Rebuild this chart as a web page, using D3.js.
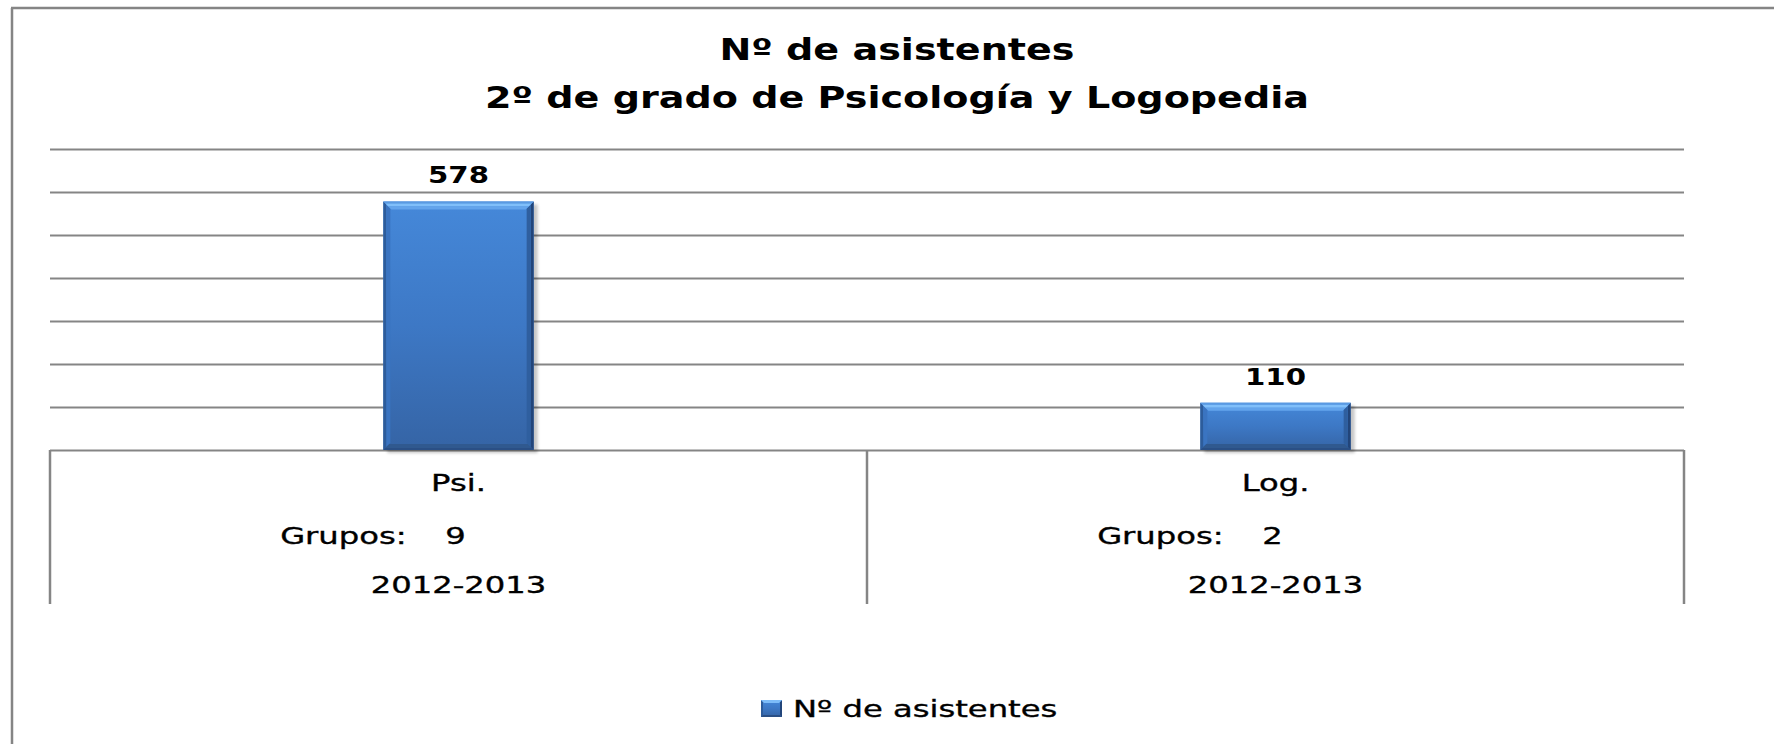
<!DOCTYPE html>
<html>
<head>
<meta charset="utf-8">
<script src="https://cdn.jsdelivr.net/npm/d3@7"></script>
<style>
  body { margin: 0; background: #fff; }
  text { font-family: "DejaVu Sans", Verdana, sans-serif; fill: #000; }
  .cell text, .legend text { stroke: #000; stroke-width: 0.35px; }
</style>
</head>
<body>
<div id="chart"></div>
<script>
// chart data
var categories = ["Psi.", "Log."];
var asistentes = [578, 110];
var grupos = [9, 2];
var cursos = ["2012-2013", "2012-2013"];
var yTicks = [0, 100, 200, 300, 400, 500, 600, 700];
var seriesName = "Nº de asistentes";
var titleLines = ["Nº de asistentes", "2º de grado de Psicología y Logopedia"];

// layout
var W = 1774, H = 744;
var plot = {left: 50, right: 1684, top: 149, bottom: 450};
var tableBottom = 604;
var grey = "#858585";
var stretchBold = 1.27, stretchRegular = 1.4; // the picture's text is wide

var svg = d3.select("#chart").append("svg")
    .attr("width", W)
    .attr("height", H)
    .style("background", "#fff");

var defs = svg.append("defs");

var bodyGrad = defs.append("linearGradient")
    .attr("id", "barBody")
    .attr("x1", 0).attr("y1", 0).attr("x2", 0).attr("y2", 1);
bodyGrad.append("stop").attr("offset", "0%").attr("stop-color", "#4588d9");
bodyGrad.append("stop").attr("offset", "50%").attr("stop-color", "#3d78c5");
bodyGrad.append("stop").attr("offset", "100%").attr("stop-color", "#3564a5");

defs.append("filter")
    .attr("id", "shadow")
    .attr("x", "-10%").attr("y", "-10%").attr("width", "130%").attr("height", "130%")
  .append("feGaussianBlur")
    .attr("stdDeviation", 1.5);

// outer frame of the chart area (runs off the right and bottom edges)
svg.append("line")
    .attr("x1", 11).attr("x2", W)
    .attr("y1", 8).attr("y2", 8)
    .attr("stroke", grey).attr("stroke-width", 2.5);
svg.append("line")
    .attr("x1", 12).attr("x2", 12)
    .attr("y1", 8).attr("y2", H)
    .attr("stroke", grey).attr("stroke-width", 2.5);

var x = d3.scaleBand()
    .domain(categories)
    .range([plot.left, plot.right]);

var y = d3.scaleLinear()
    .domain([0, 700])
    .range([plot.bottom, plot.top]);

function stretch(sel, k) {
  sel.each(function() {
    var len = this.getComputedTextLength();
    d3.select(this)
        .attr("textLength", len * k)
        .attr("lengthAdjust", "spacingAndGlyphs");
  });
}

// title
var title = svg.append("g");
title.selectAll("text")
    .data(titleLines)
  .enter().append("text")
    .attr("x", 897)
    .attr("y", (d, i) => 60 + i * 48)
    .attr("text-anchor", "middle")
    .attr("font-size", 30)
    .attr("font-weight", "bold")
    .text(d => d)
    .call(stretch, stretchBold);

// gridlines (no tick labels)
var yAxis = d3.axisLeft(y)
    .tickValues(yTicks)
    .tickSize(-(plot.right - plot.left))
    .tickFormat("");

svg.append("g")
    .attr("class", "grid")
    .attr("transform", `translate(${plot.left},0)`)
    .call(yAxis)
    .call(g => g.select(".domain").remove())
    .selectAll("line")
    .attr("stroke", grey)
    .attr("stroke-width", 2);

// category table below the axis
var dividers = categories.map(c => x(c)).concat([x.range()[1]]);
svg.selectAll(".divider")
    .data(dividers)
  .enter().append("line")
    .attr("class", "divider")
    .attr("x1", d => d).attr("x2", d => d)
    .attr("y1", y(0)).attr("y2", tableBottom)
    .attr("stroke", grey)
    .attr("stroke-width", 2.5);

var rows = categories.map((c, i) => ({
  cat: c, value: asistentes[i], grupos: grupos[i], curso: cursos[i]
}));

var cell = svg.selectAll(".cell")
    .data(rows)
  .enter().append("g")
    .attr("class", "cell")
    .attr("transform", d => `translate(${x(d.cat) + x.bandwidth() / 2},0)`)
    .attr("font-size", 23);

cell.append("text")
    .attr("y", 491)
    .attr("text-anchor", "middle")
    .text(d => d.cat);

cell.append("text")
    .attr("x", -52)
    .attr("y", 544)
    .attr("text-anchor", "end")
    .text("Grupos:");

cell.append("text")
    .attr("x", -3)
    .attr("y", 544)
    .attr("text-anchor", "middle")
    .text(d => d.grupos);

cell.append("text")
    .attr("y", 593)
    .attr("text-anchor", "middle")
    .text(d => d.curso);

cell.selectAll("text").call(stretch, stretchRegular);

// bevelled bars
var barWidth = x.bandwidth() * 0.184;

function band(side, r, a, b) {
  var x0 = r.x0, x1 = r.x1, y0 = r.y0, y1 = r.y1;
  var p;
  if (side == "top") p = [[x0 + a, y0 + a], [x1 - a, y0 + a], [x1 - b, y0 + b], [x0 + b, y0 + b]];
  if (side == "bottom") p = [[x0 + a, y1 - a], [x1 - a, y1 - a], [x1 - b, y1 - b], [x0 + b, y1 - b]];
  if (side == "left") p = [[x0 + a, y0 + a], [x0 + b, y0 + b], [x0 + b, y1 - b], [x0 + a, y1 - a]];
  if (side == "right") p = [[x1 - a, y0 + a], [x1 - b, y0 + b], [x1 - b, y1 - b], [x1 - a, y1 - a]];
  return p.map(q => q.join(",")).join(" ");
}

var bevelLayers = [
  {side: "left", a: 0, b: 3, color: "#2d5c9b"},
  {side: "left", a: 3, b: 7, color: "#3a74c1"},
  {side: "right", a: 0, b: 3, color: "#22457a"},
  {side: "right", a: 3, b: 7, color: "#2f5f9f"},
  {side: "bottom", a: 0, b: 2, color: "#2a4f85"},
  {side: "bottom", a: 2, b: 6, color: "#30598f"},
  {side: "top", a: 0, b: 2, color: "#5a9ae2"},
  {side: "top", a: 2, b: 5, color: "#80bffa"},
  {side: "top", a: 5, b: 8, color: "#63a4ec"}
];

function drawBar(g, r, layers, shadow) {
  if (shadow) {
    g.append("rect")
        .attr("x", r.x0 + 4)
        .attr("y", r.y0 + 3)
        .attr("width", r.x1 - r.x0)
        .attr("height", r.y1 - r.y0)
        .attr("fill", "#000")
        .attr("opacity", 0.22)
        .attr("filter", "url(#shadow)");
  }
  g.append("rect")
      .attr("x", r.x0)
      .attr("y", r.y0)
      .attr("width", r.x1 - r.x0)
      .attr("height", r.y1 - r.y0)
      .attr("fill", "url(#barBody)");
  layers.forEach(l => {
    g.append("polygon")
        .attr("points", band(l.side, r, l.a, l.b))
        .attr("fill", l.color);
  });
}

var bars = svg.selectAll(".bar")
    .data(rows)
  .enter().append("g")
    .attr("class", "bar");

bars.each(function(d) {
  var cx = x(d.cat) + x.bandwidth() / 2;
  drawBar(d3.select(this), {
    x0: cx - barWidth / 2, x1: cx + barWidth / 2, y0: y(d.value), y1: y(0)
  }, bevelLayers, true);
});

bars.append("text")
    .attr("x", d => x(d.cat) + x.bandwidth() / 2)
    .attr("y", d => y(d.value) - 18)
    .attr("text-anchor", "middle")
    .attr("font-size", 23)
    .attr("font-weight", "bold")
    .text(d => d.value)
    .call(stretch, stretchBold);

// legend
var legend = svg.append("g")
    .attr("class", "legend");

drawBar(legend.append("g"), {x0: 761, x1: 782, y0: 700, y1: 717}, [
  {side: "left", a: 0, b: 2, color: "#2d5c9b"},
  {side: "right", a: 0, b: 2, color: "#22457a"},
  {side: "bottom", a: 0, b: 2, color: "#2a4f85"},
  {side: "top", a: 0, b: 3, color: "#7dbcf8"}
], false);

legend.append("text")
    .attr("x", 793)
    .attr("y", 717)
    .attr("font-size", 23)
    .text(seriesName)
    .call(stretch, stretchRegular);
</script>
</body>
</html>
